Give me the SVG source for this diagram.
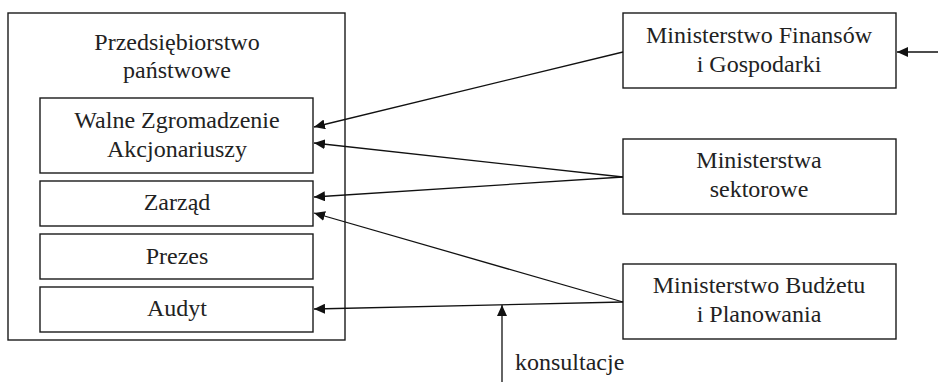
<svg xmlns="http://www.w3.org/2000/svg" width="938" height="382" viewBox="0 0 938 382">
<style>
rect{fill:#fff;stroke:#1a1a1a;stroke-width:1.4}
text{font-family:'Liberation Serif','Times New Roman','DejaVu Serif',serif;font-size:24px;fill:#222;text-anchor:middle}
.c line{stroke:#111;stroke-width:1.3;marker-end:url(#ah)}
</style>
<defs>
<marker id="ah" markerUnits="userSpaceOnUse" markerWidth="12" markerHeight="10" refX="11" refY="5" orient="auto">
<path d="M0,0 L11,5 L0,10 Z" fill="#111"/>
</marker>
</defs>
<g id="przedsiebiorstwo">
<rect x="8" y="13" width="337" height="327"/>
<text x="177" y="50">Przedsiębiorstwo</text>
<text x="177" y="78">państwowe</text>
</g>
<g id="walne">
<rect x="40" y="98" width="273" height="75"/>
<text x="177" y="128">Walne Zgromadzenie</text>
<text x="177" y="157">Akcjonariuszy</text>
</g>
<g id="zarzad">
<rect x="40" y="181" width="273" height="45"/>
<text x="177" y="210">Zarząd</text>
</g>
<g id="prezes">
<rect x="40" y="234" width="273" height="45"/>
<text x="177" y="264">Prezes</text>
</g>
<g id="audyt">
<rect x="40" y="287" width="273" height="45"/>
<text x="177" y="316">Audyt</text>
</g>
<g id="mf">
<rect x="623" y="13" width="273" height="75"/>
<text x="759" y="43">Ministerstwo Finansów</text>
<text x="759" y="72">i Gospodarki</text>
</g>
<g id="ms">
<rect x="623" y="139" width="273" height="75"/>
<text x="759" y="168">Ministerstwa</text>
<text x="759" y="197">sektorowe</text>
</g>
<g id="mbp">
<rect x="623" y="264" width="273" height="75"/>
<text x="759" y="293">Ministerstwo Budżetu</text>
<text x="759" y="322">i Planowania</text>
</g>
<g id="connectors" class="c">
<line x1="938" y1="52" x2="897" y2="52"/>
<line x1="623" y1="52" x2="314" y2="127"/>
<line x1="623" y1="177" x2="314" y2="143"/>
<line x1="623" y1="177" x2="314" y2="197"/>
<line x1="623" y1="302" x2="314" y2="213"/>
<line x1="623" y1="302" x2="314" y2="309"/>
<line x1="502" y1="382" x2="502" y2="305"/>
</g>
<text x="515" y="370" style="text-anchor:start">konsultacje</text>
</svg>
